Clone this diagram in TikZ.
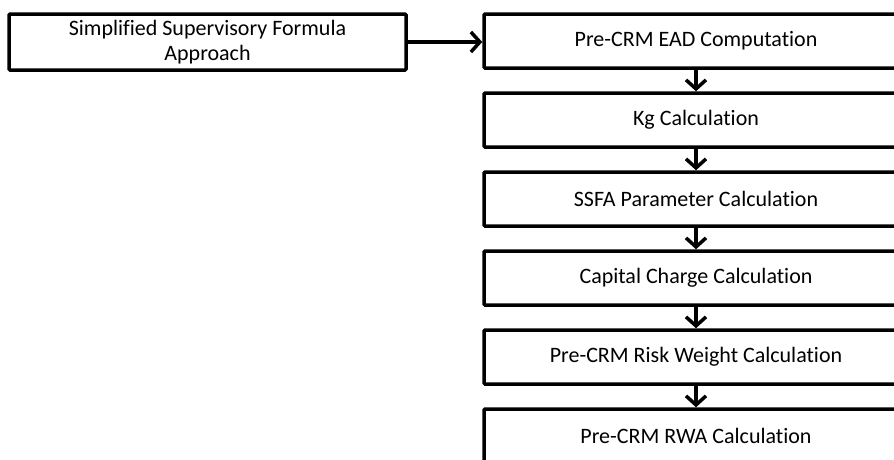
\documentclass[tikz,border=0pt]{standalone}
\usepackage{fontspec}
\setmainfont{Carlito}[Ligatures={NoCommon,NoDiscretionary,NoContextual}]
\usetikzlibrary{arrows.meta}
\begin{document}
\begin{tikzpicture}[x=1pt,y=-1pt,
  box/.style={draw=black, line width=3.5pt, fill=white, rounded corners=1pt, inner sep=0pt, font=\fontsize{22}{25}\selectfont, align=center},
  rbox/.style={box, minimum width=424pt, minimum height=54pt},
  flow/.style={line width=3.5pt, -{Straight Barb[length=9pt,width=20pt,line width=3.5pt]}}]
\useasboundingbox (0,0) rectangle (894,459);
\clip (0,0) rectangle (894,459);
\node[box, minimum width=397pt, minimum height=56pt] (ssfa) at (207.5,42) {Simplified Supervisory Formula\\Approach};
\node[rbox] (ead) at (696,41) {Pre-CRM EAD Computation};
\node[rbox] (kg) at (696,120) {Kg Calculation};
\node[rbox] (par) at (696,199) {SSFA Parameter Calculation};
\node[rbox] (cap) at (696,278) {Capital Charge Calculation};
\node[rbox] (rw) at (696,357) {Pre-CRM Risk Weight Calculation};
\node[rbox] (rwa) at (696,436) {Pre-CRM RWA Calculation};
\draw[flow] (ssfa.east) -- (ssfa.east -| ead.west);
\draw[flow] (ead) -- (kg);
\draw[flow] (kg) -- (par);
\draw[flow] (par) -- (cap);
\draw[flow] (cap) -- (rw);
\draw[flow] (rw) -- (rwa);
\end{tikzpicture}
\end{document}
